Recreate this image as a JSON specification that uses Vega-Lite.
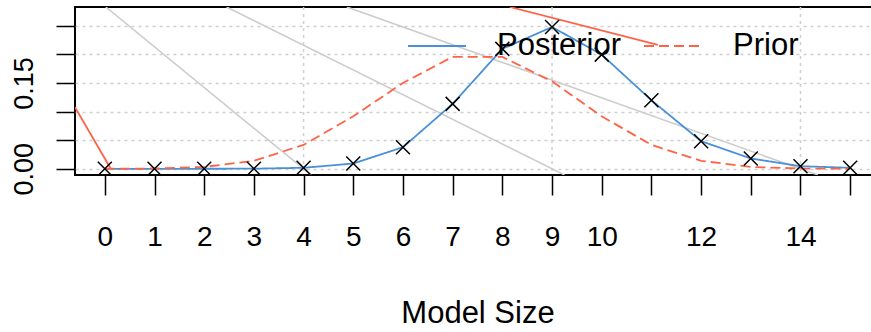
{
  "$schema": "https://vega.github.io/schema/vega-lite/v6.json",
  "autosize": {"type": "none"},
  "padding": {"left": 75, "top": 7, "right": 0, "bottom": 157},
  "width": 805,
  "height": 168,
  "background": "white",
  "datasets": {
    "dist": [
      {"size": 0, "series": "Posterior", "prob": 0.0},
      {"size": 1, "series": "Posterior", "prob": 0.0},
      {"size": 2, "series": "Posterior", "prob": 0.0},
      {"size": 3, "series": "Posterior", "prob": 0.0002},
      {"size": 4, "series": "Posterior", "prob": 0.0017},
      {"size": 5, "series": "Posterior", "prob": 0.0092},
      {"size": 6, "series": "Posterior", "prob": 0.0377},
      {"size": 7, "series": "Posterior", "prob": 0.1134},
      {"size": 8, "series": "Posterior", "prob": 0.2094},
      {"size": 9, "series": "Posterior", "prob": 0.2477},
      {"size": 10, "series": "Posterior", "prob": 0.1994},
      {"size": 11, "series": "Posterior", "prob": 0.1197},
      {"size": 12, "series": "Posterior", "prob": 0.0482},
      {"size": 13, "series": "Posterior", "prob": 0.018},
      {"size": 14, "series": "Posterior", "prob": 0.0045},
      {"size": 15, "series": "Posterior", "prob": 0.0017},
      {"size": 0, "series": "Prior", "prob": 0.0},
      {"size": 1, "series": "Prior", "prob": 0.0005},
      {"size": 2, "series": "Prior", "prob": 0.0032},
      {"size": 3, "series": "Prior", "prob": 0.0139},
      {"size": 4, "series": "Prior", "prob": 0.0417},
      {"size": 5, "series": "Prior", "prob": 0.0916},
      {"size": 6, "series": "Prior", "prob": 0.15},
      {"size": 7, "series": "Prior", "prob": 0.1955},
      {"size": 8, "series": "Prior", "prob": 0.1955},
      {"size": 9, "series": "Prior", "prob": 0.1527},
      {"size": 10, "series": "Prior", "prob": 0.0916},
      {"size": 11, "series": "Prior", "prob": 0.0417},
      {"size": 12, "series": "Prior", "prob": 0.0139},
      {"size": 13, "series": "Prior", "prob": 0.0032},
      {"size": 14, "series": "Prior", "prob": 0.0005},
      {"size": 15, "series": "Prior", "prob": 0.0}
    ],
    "grayLines": [
      {"line": "g1", "x": 0.02, "y": 0.2826},
      {"line": "g1", "x": 4.15, "y": -0.0108},
      {"line": "g2", "x": 2.45, "y": 0.2826},
      {"line": "g2", "x": 9.25, "y": -0.0108},
      {"line": "g3", "x": 4.87, "y": 0.2826},
      {"line": "g3", "x": 14.35, "y": -0.0108}
    ],
    "redLines": [
      {"line": "r1", "x": -0.6, "y": 0.1075},
      {"line": "r1", "x": 0.12, "y": 0.0},
      {"line": "r2", "x": 8.15, "y": 0.2826},
      {"line": "r2", "x": 11.13, "y": 0.2165}
    ],
    "vgrid": [{"x": 4}, {"x": 9}, {"x": 14}]
  },
  "encoding": {
    "x": {
      "type": "quantitative",
      "scale": {"domain": [-0.6, 15.6], "nice": false, "zero": false},
      "axis": {
        "title": "Model Size",
        "values": [0, 1, 2, 3, 4, 5, 6, 7, 8, 9, 10, 11, 12, 13, 14, 15],
        "format": "d",
        "labelExpr": "(datum.value == 11 || datum.value == 13 || datum.value == 15) ? '' : datum.label",
        "grid": false,
        "domain": false,
        "tickSize": 20,
        "tickWidth": 1.5,
        "tickColor": "black",
        "labelPadding": 28,
        "labelFontSize": 28,
        "labelFont": "Liberation Sans",
        "labelColor": "black",
        "labelBaseline": "top",
        "labelFlush": false,
        "labelOverlap": false,
        "titleFontSize": 31,
        "titleFont": "Liberation Sans",
        "titleFontWeight": "normal",
        "titleColor": "black",
        "titlePadding": 47
      }
    },
    "y": {
      "type": "quantitative",
      "scale": {"domain": [-0.01087, 0.2826], "nice": false, "zero": false},
      "axis": {
        "title": null,
        "values": [0, 0.05, 0.1, 0.15, 0.2, 0.25],
        "labelExpr": "datum.value == 0 ? '0.00' : (abs(datum.value - 0.15) < 1e-9 ? '0.15' : '')",
        "grid": true,
        "gridDash": [3, 4],
        "gridColor": "#cfcfcf",
        "gridWidth": 1.5,
        "domain": false,
        "tickSize": 19,
        "tickWidth": 1.5,
        "tickColor": "black",
        "labelAngle": -90,
        "labelAlign": "center",
        "labelBaseline": "alphabetic",
        "labelPadding": 24,
        "labelFontSize": 27,
        "labelFont": "Liberation Sans",
        "labelColor": "black",
        "labelOverlap": false,
        "labelFlush": false
      }
    }
  },
  "layer": [
    {
      "data": {"name": "vgrid"},
      "mark": {"type": "rule", "strokeDash": [3, 4], "color": "#cfcfcf", "strokeWidth": 1.5},
      "encoding": {"x": {"field": "x", "type": "quantitative"}}
    },
    {
      "data": {"name": "grayLines"},
      "mark": {"type": "line", "clip": true, "color": "#cccccc", "strokeWidth": 1.6},
      "encoding": {
        "x": {"field": "x", "type": "quantitative"},
        "y": {"field": "y", "type": "quantitative"},
        "detail": {"field": "line", "type": "nominal"}
      }
    },
    {
      "data": {"name": "redLines"},
      "mark": {"type": "line", "clip": true, "color": "#ff6347", "strokeWidth": 1.8},
      "encoding": {
        "x": {"field": "x", "type": "quantitative"},
        "y": {"field": "y", "type": "quantitative"},
        "detail": {"field": "line", "type": "nominal"}
      }
    },
    {
      "data": {"name": "dist"},
      "mark": {"type": "line", "clip": true, "strokeWidth": 1.8},
      "encoding": {
        "x": {"field": "size", "type": "quantitative"},
        "y": {"field": "prob", "type": "quantitative"},
        "color": {
          "field": "series",
          "type": "nominal",
          "scale": {"domain": ["Posterior", "Prior"], "range": ["#4a90d9", "#ff6347"]},
          "legend": {
            "title": null,
            "orient": "none",
            "direction": "horizontal",
            "legendX": 332,
            "legendY": 9,
            "padding": 0,
            "symbolType": "stroke",
            "symbolSize": 3364,
            "symbolStrokeWidth": 1.8,
            "labelFontSize": 31,
            "labelFont": "Liberation Sans",
            "labelColor": "black",
            "labelOffset": 30,
            "columnPadding": 18,
            "labelLimit": 0
          }
        },
        "strokeDash": {
          "field": "series",
          "type": "nominal",
          "scale": {"domain": ["Posterior", "Prior"], "range": [[1, 0], [10, 5]]},
          "legend": null
        }
      }
    },
    {
      "data": {"name": "dist"},
      "transform": [{"filter": "datum.series == 'Posterior'"}],
      "mark": {"type": "point", "shape": "M-1,-1L1,1M-1,1L1,-1", "size": 196, "color": "black", "strokeWidth": 1.5, "filled": false, "opacity": 1},
      "encoding": {
        "x": {"field": "size", "type": "quantitative"},
        "y": {"field": "prob", "type": "quantitative"}
      }
    }
  ],
  "config": {
    "view": {"stroke": "black", "strokeWidth": 2}
  }
}
